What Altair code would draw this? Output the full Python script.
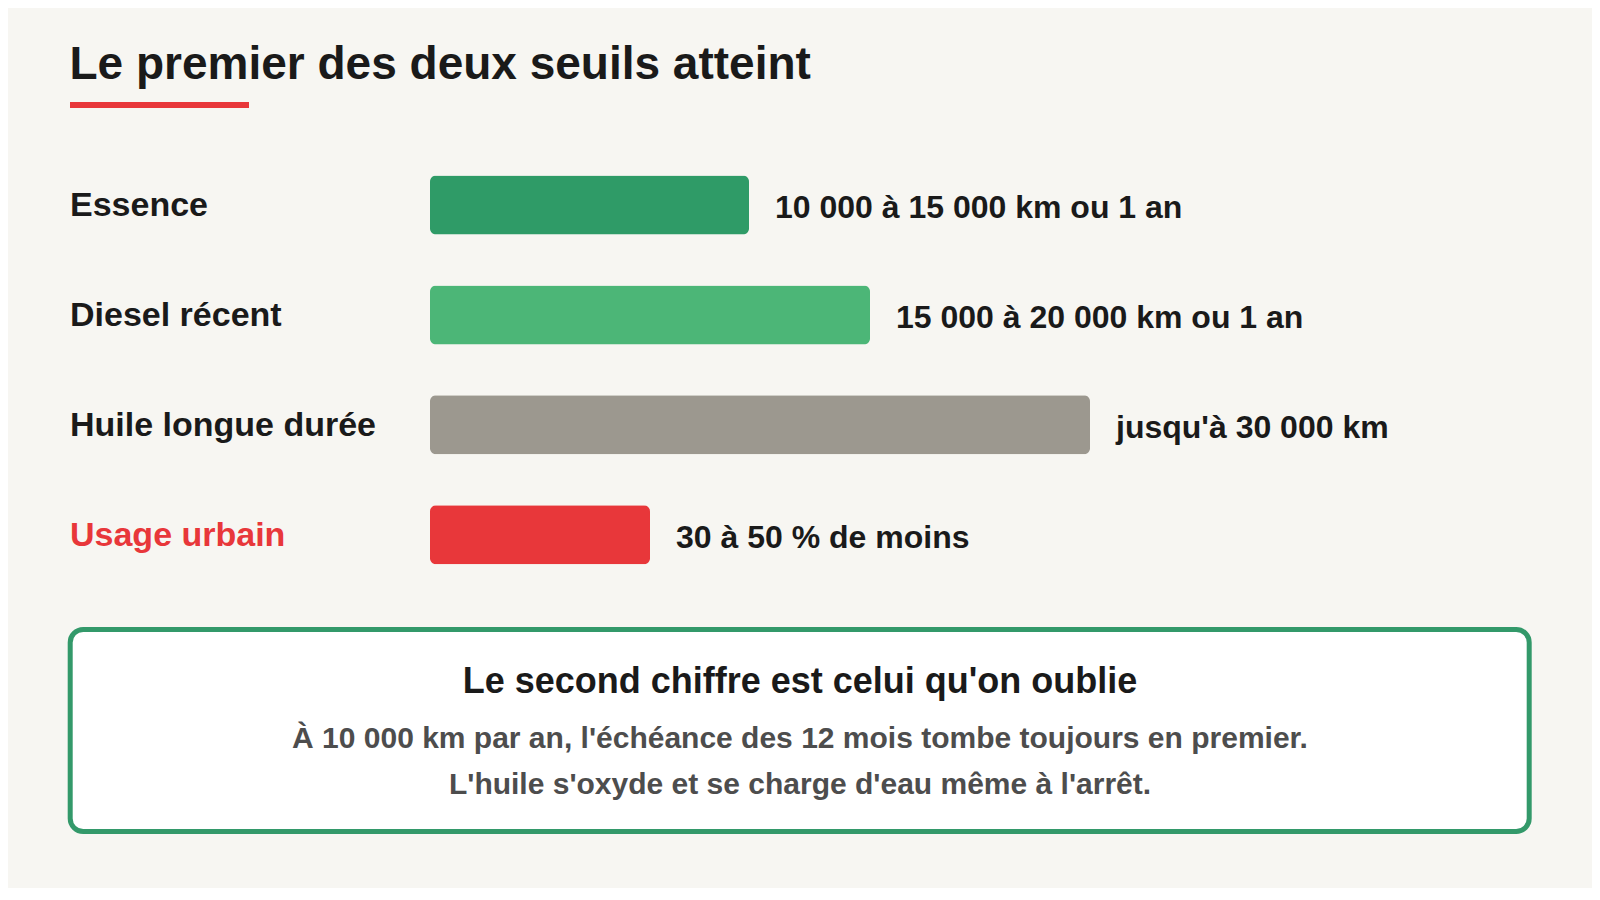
import altair as alt
import pandas as pd

# ---- data ----
categories = ["Essence", "Diesel récent", "Huile longue durée", "Usage urbain"]
km_values = [14500, 20000, 30000, 10000]
value_labels = [
    "10 000 à 15 000 km ou 1 an",
    "15 000 à 20 000 km ou 1 an",
    "jusqu'à 30 000 km",
    "30 à 50 % de moins",
]
title_text = ["Le premier des deux seuils atteint"]
box_title = ["Le second chiffre est celui qu'on oublie"]
box_lines = [
    "À 10 000 km par an, l'échéance des 12 mois tombe toujours en premier.",
    "L'huile s'oxyde et se charge d'eau même à l'arrêt.",
]

# ---- styles ----
bar_colors = ["#2F9B67", "#4CB677", "#9C988F", "#E8373A"]
FONT = "Liberation Sans"
DARK = "#1a1a1a"
RED = "#E8373A"
GREEN = "#33996A"
BG = "#F7F6F2"

df = pd.DataFrame({"cat": categories, "km": km_values, "label": value_labels})

x_scale = alt.Scale(domain=[0, 30000], range=[422, 1082])
y_scale = alt.Scale(domain=categories, range=[142.07, 581.6],
                    paddingInner=0.463, paddingOuter=0.2315)

base = alt.Chart(df)

bars = base.mark_bar(cornerRadius=6).encode(
    x=alt.X("km:Q", scale=x_scale, axis=None),
    y=alt.Y("cat:N", scale=y_scale, axis=None, sort=categories),
    color=alt.Color("cat:N", scale=alt.Scale(domain=categories, range=bar_colors), legend=None),
)

cat_labels = base.mark_text(
    align="left", baseline="middle", fontSize=34, fontWeight="bold", font=FONT, dy=1
).encode(
    x=alt.value(62),
    y=alt.Y("cat:N", scale=y_scale, axis=None, sort=categories),
    text="cat:N",
    color=alt.condition(alt.datum.cat == "Usage urbain", alt.value(RED), alt.value(DARK)),
)

val_labels = base.mark_text(
    align="left", baseline="middle", fontSize=32, fontWeight="bold", font=FONT,
    dx=26, dy=3, color=DARK
).encode(
    x=alt.X("km:Q", scale=x_scale, axis=None),
    y=alt.Y("cat:N", scale=y_scale, axis=None, sort=categories),
    text="label:N",
)

title = alt.Chart(pd.DataFrame({"t": title_text})).mark_text(
    align="left", baseline="alphabetic", fontSize=46, fontWeight="bold", font=FONT, color=DARK
).encode(x=alt.value(61.5), y=alt.value(71), text="t:N")

underline = alt.Chart(pd.DataFrame({"t": title_text})).mark_rect(color=RED).encode(
    x=alt.value(62), x2=alt.value(241), y=alt.value(94), y2=alt.value(100)
)

box = alt.Chart(pd.DataFrame({"t": box_title})).mark_rect(
    fill="white", stroke=GREEN, strokeWidth=5, cornerRadius=13
).encode(
    x=alt.value(62.2), x2=alt.value(1521.2), y=alt.value(621.5), y2=alt.value(823.5)
)

box_head = alt.Chart(pd.DataFrame({"t": box_title})).mark_text(
    align="center", baseline="alphabetic", fontSize=36, fontWeight="bold", font=FONT, color=DARK
).encode(x=alt.value(792), y=alt.value(685.3), text="t:N")

box_l1 = alt.Chart(pd.DataFrame({"t": box_lines[:1]})).mark_text(
    align="center", baseline="alphabetic", fontSize=30, fontWeight="bold", font=FONT, color="#4d4d4d"
).encode(x=alt.value(792), y=alt.value(739.7), text="t:N")

box_l2 = alt.Chart(pd.DataFrame({"t": box_lines[1:]})).mark_text(
    align="center", baseline="alphabetic", fontSize=30, fontWeight="bold", font=FONT, color="#4d4d4d"
).encode(x=alt.value(792), y=alt.value(785.5), text="t:N")

chart = alt.layer(
    title, underline, bars, cat_labels, val_labels, box, box_head, box_l1, box_l2
).properties(
    width=1584, height=880, padding=0, autosize=alt.AutoSizeParams(type="none"),
    background=BG,
).configure_view(stroke=None)

chart.save("out.html", embed_options={"renderer": "svg", "actions": False})
